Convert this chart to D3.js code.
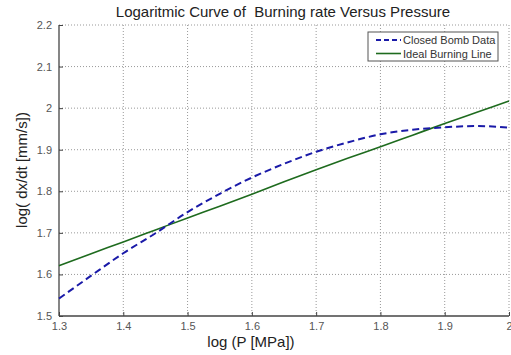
<!DOCTYPE html>
<html>
<head>
<meta charset="utf-8">
<script src="https://cdn.jsdelivr.net/npm/d3@7/dist/d3.min.js"></script>
<style>
  body { margin: 0; background: #fff; }
  svg { display: block; font-family: "Liberation Sans", Arial, sans-serif; }
</style>
</head>
<body>
<div id="chart"></div>
<script>
const logP = [1.3, 1.35, 1.4, 1.45, 1.5, 1.55, 1.6, 1.65, 1.7, 1.75, 1.8, 1.85, 1.9, 1.95, 2.0];
const closedBomb = [1.542, 1.597, 1.651, 1.699, 1.750, 1.794, 1.833, 1.866, 1.895, 1.918, 1.937, 1.948, 1.954, 1.957, 1.953];
const idealLine = [1.621, 1.650, 1.678, 1.707, 1.736, 1.764, 1.793, 1.823, 1.852, 1.880, 1.907, 1.935, 1.963, 1.990, 2.017];

const xTicks = [1.3, 1.4, 1.5, 1.6, 1.7, 1.8, 1.9, 2.0];
const yTicks = [1.5, 1.6, 1.7, 1.8, 1.9, 2.0, 2.1, 2.2];

const width = 511, height = 355;
const margin = { top: 25, right: 2, bottom: 39, left: 59 };
const w = width - margin.left - margin.right;
const h = height - margin.top - margin.bottom;

const svg = d3.select("#chart").append("svg")
  .attr("width", width)
  .attr("height", height);

const g = svg.append("g")
  .attr("transform", `translate(${margin.left},${margin.top})`);

const x = d3.scaleLinear().domain([1.3, 2.0]).range([0, w]);
const y = d3.scaleLinear().domain([1.5, 2.2]).range([h, 0]);

// dotted grid
g.append("g")
  .selectAll("line")
  .data(xTicks.slice(1))
  .enter().append("line")
  .attr("x1", d => x(d)).attr("x2", d => x(d))
  .attr("y1", 0).attr("y2", h)
  .style("stroke", "#999")
  .style("stroke-width", 1)
  .style("stroke-dasharray", "1,2");

g.append("g")
  .selectAll("line")
  .data(yTicks.slice(1))
  .enter().append("line")
  .attr("x1", 0).attr("x2", w)
  .attr("y1", d => y(d)).attr("y2", d => y(d))
  .style("stroke", "#999")
  .style("stroke-width", 1)
  .style("stroke-dasharray", "1,2");

// axes
const fmt = d => d3.format("")(+d.toFixed(1));
const tickStyle = a => a.selectAll("text")
  .style("fill", "#555").style("font-size", "11px")
  .style("font-family", "Liberation Sans, Arial, sans-serif");

const xAxis = g.append("g")
  .attr("transform", `translate(0,${h})`)
  .call(d3.axisBottom(x).tickValues(xTicks).tickFormat(fmt).tickSize(-4).tickPadding(6))
  .call(a => a.select(".domain").remove())
  .call(a => a.selectAll("line").style("stroke", "#444"))
  .call(tickStyle);

// last label sits at the window edge, keep it inside
xAxis.selectAll("text").filter(d => d === 2.0).attr("text-anchor", "end").attr("dx", 3);

g.append("g")
  .call(d3.axisLeft(y).tickValues(yTicks).tickFormat(fmt).tickSize(-4).tickPadding(7))
  .call(a => a.select(".domain").remove())
  .call(a => a.selectAll("line").style("stroke", "#444"))
  .call(tickStyle);

// axis box lines (left + bottom)
g.append("line").attr("x1", 0).attr("x2", 0).attr("y1", 0).attr("y2", h)
  .style("stroke", "#444").style("stroke-width", 1.3);
g.append("line").attr("x1", 0).attr("x2", w).attr("y1", h).attr("y2", h)
  .style("stroke", "#444").style("stroke-width", 1.3);

// series
const line = d3.line()
  .x((d, i) => x(logP[i]))
  .y(d => y(d))
  .curve(d3.curveMonotoneX);

g.append("path")
  .datum(idealLine)
  .attr("d", line)
  .style("fill", "none")
  .style("stroke", "#1e6b1e")
  .style("stroke-width", 1.6);

g.append("path")
  .datum(closedBomb)
  .attr("d", line)
  .style("fill", "none")
  .style("stroke", "#1a1aa8")
  .style("stroke-width", 2)
  .style("stroke-dasharray", "7,4");

// legend
const legend = svg.append("g").attr("transform", "translate(368,32)");
legend.append("rect")
  .attr("width", 130).attr("height", 29)
  .style("fill", "#fff").style("stroke", "#555").style("stroke-width", 1);

const items = [
  { label: "Closed Bomb Data", color: "#1a1aa8", dash: "5,3", sw: 2 },
  { label: "Ideal Burning Line", color: "#1e6b1e", dash: null, sw: 1.6 }
];
items.forEach((it, i) => {
  const cy = 8 + i * 13.5;
  legend.append("line")
    .attr("x1", 8).attr("x2", 33).attr("y1", cy).attr("y2", cy)
    .style("stroke", it.color).style("stroke-width", it.sw)
    .style("stroke-dasharray", it.dash);
  legend.append("text")
    .attr("x", 35).attr("y", cy + 4)
    .style("font-size", "11px").style("fill", "#333")
    .text(it.label);
});

// title and labels
svg.append("text")
  .attr("x", 283).attr("y", 17)
  .attr("text-anchor", "middle")
  .attr("xml:space", "preserve")
  .style("white-space", "pre")
  .style("font-size", "15px").style("fill", "#222")
  .text("Logaritmic Curve of  Burning rate Versus Pressure");

svg.append("text")
  .attr("x", 251).attr("y", 347)
  .attr("text-anchor", "middle")
  .style("font-size", "15px").style("fill", "#222")
  .text("log (P [MPa])");

svg.append("text")
  .attr("transform", "translate(27,170) rotate(-90)")
  .attr("text-anchor", "middle")
  .style("font-size", "15px").style("fill", "#222")
  .text("log( dx/dt [mm/s])");
</script>
</body>
</html>
